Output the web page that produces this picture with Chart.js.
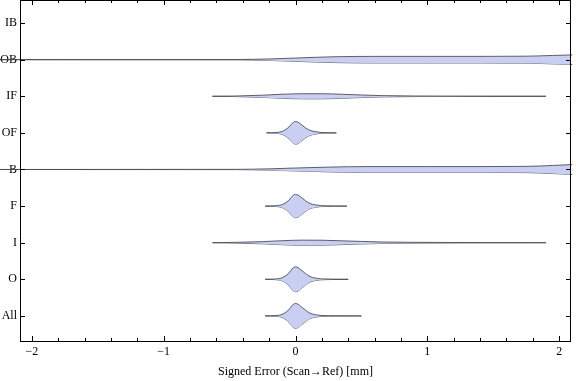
<!DOCTYPE html>
<html>
<head>
<meta charset="utf-8">
<script src="https://cdn.jsdelivr.net/npm/chart.js@4"></script>
<style>
html,body{margin:0;padding:0;background:#fff;}
canvas{display:block;}
</style>
</head>
<body>
<canvas id="c" width="576" height="381"></canvas>
<script>
// Categories, top to bottom
const categories = ['IB','OB','IF','OF','B','F','I','O','All'];
const xTicks = [-2,-1,0,1,2];
const xTitle = 'Signed Error (Scan\u2192Ref) [mm]';

// Violin outlines: positions along x (mm) and half-widths (category units)
const ibX = [];
const ibW = [];
const obX = [-2.25,-0.45,-0.2,0,0.3,0.6,1.0,1.4,1.75,1.95,2.1,2.3];
const obW = [0,0.004,0.02,0.045,0.08,0.09,0.09,0.09,0.095,0.115,0.13,0.14];
const ifX = [-0.63,-0.45,-0.25,-0.1,0.05,0.2,0.35,0.5,0.65,0.9,1.3,1.9];
const ifW = [0,0.008,0.03,0.055,0.07,0.07,0.055,0.035,0.018,0.008,0.004,0];
const ofX = [-0.22,-0.15,-0.11,-0.08,-0.05,-0.025,0,0.02,0.04,0.075,0.11,0.15,0.2,0.31];
const ofW = [0,0.01,0.03,0.08,0.16,0.26,0.31,0.29,0.24,0.14,0.07,0.035,0.01,0];
const bX = [-2.25,-0.45,-0.2,0,0.25,0.55,1.0,1.4,1.75,1.95,2.1,2.3];
const bW = [0,0.004,0.018,0.04,0.065,0.08,0.08,0.08,0.085,0.11,0.135,0.15];
const fX = [-0.23,-0.15,-0.11,-0.08,-0.05,-0.025,0,0.02,0.04,0.075,0.11,0.15,0.2,0.39];
const fW = [0,0.01,0.03,0.08,0.16,0.27,0.32,0.30,0.25,0.15,0.07,0.035,0.012,0];
const iX = [-0.63,-0.45,-0.25,-0.1,0.05,0.2,0.35,0.5,0.65,0.9,1.3,1.9];
const iW = [0,0.01,0.03,0.055,0.07,0.068,0.052,0.035,0.02,0.01,0.005,0];
const oX = [-0.23,-0.15,-0.11,-0.08,-0.05,-0.025,0,0.02,0.04,0.075,0.11,0.15,0.2,0.40];
const oW = [0,0.01,0.03,0.085,0.17,0.29,0.34,0.32,0.26,0.16,0.075,0.035,0.012,0];
const allX = [-0.23,-0.15,-0.11,-0.08,-0.05,-0.025,0,0.02,0.04,0.075,0.11,0.15,0.2,0.3,0.5];
const allW = [0,0.01,0.03,0.085,0.17,0.29,0.34,0.32,0.26,0.16,0.075,0.035,0.012,0.004,0];

const violins = [
  [ibX, ibW], [obX, obW], [ifX, ifW], [ofX, ofW], [bX, bW],
  [fX, fW], [iX, iW], [oX, oW], [allX, allW]
];

const FILL = 'rgb(201,207,243)';
const EDGE = 'rgba(70,70,80,0.85)';

const datasets = [];
violins.forEach(([xs, ws], idx) => {
  if (!xs.length) return;
  const wide = xs[0] < -2.09 || xs[xs.length-1] > 2.09;
  const common = {
    borderColor: EDGE, borderWidth: 1, pointRadius: 0,
    cubicInterpolationMode: 'monotone', clip: wide ? false : undefined
  };
  datasets.push(Object.assign({
    data: xs.map((x, k) => ({x, y: idx - ws[k]})),
    backgroundColor: FILL, fill: '+1'
  }, common));
  datasets.push(Object.assign({
    data: xs.map((x, k) => ({x, y: idx + ws[k]})),
    fill: false
  }, common));
});

const frame = {
  id: 'frame',
  afterDraw(chart) {
    const {ctx, chartArea: a, scales: {x, y}} = chart;
    ctx.save();
    ctx.strokeStyle = '#000';
    ctx.lineWidth = 1;
    ctx.strokeRect(a.left + 0.5, a.top + 0.5, a.right - a.left - 1, a.bottom - a.top);
    ctx.beginPath();
    for (let k = -10; k <= 10; k++) {
      const v = k / 5;
      const px = Math.round(x.getPixelForValue(v)) + 0.5;
      if (px < a.left || px > a.right) continue;
      const len = (k % 5 === 0) ? 5 : 3;
      ctx.moveTo(px, a.bottom); ctx.lineTo(px, a.bottom - len);
      ctx.moveTo(px, a.top); ctx.lineTo(px, a.top + len);
    }
    categories.forEach((c, i) => {
      const py = Math.round(y.getPixelForValue(i)) + 0.5;
      ctx.moveTo(a.left, py); ctx.lineTo(a.left + 5, py);
      ctx.moveTo(a.right, py); ctx.lineTo(a.right - 5, py);
    });
    ctx.stroke();
    ctx.restore();
  }
};

new Chart(document.getElementById('c'), {
  type: 'line',
  data: {datasets},
  options: {
    responsive: false,
    animation: false,
    devicePixelRatio: 1,
    layout: {padding: {top: 0, right: 5, left: 0, bottom: 0}},
    plugins: {legend: {display: false}, tooltip: {enabled: false}},
    elements: {line: {borderJoinStyle: 'round'}},
    scales: {
      x: {
        type: 'linear', min: -2.09, max: 2.09,
        grid: {display: false, drawTicks: false},
        border: {display: false},
        afterBuildTicks: s => { s.ticks = xTicks.map(v => ({value: v})); },
        afterFit: s => { s.height = 40; s.paddingLeft = 0; s.paddingRight = 0; },
        ticks: {
          padding: 4, color: '#000',
          font: {family: 'Liberation Serif', size: 12},
          callback: v => (v < 0 ? '\u2212' + Math.abs(v) : String(v))
        },
        title: {
          display: true, text: xTitle, color: '#000',
          font: {family: 'Liberation Serif', size: 12},
          padding: {top: 0, bottom: 2}
        }
      },
      y: {
        type: 'linear', reverse: true, min: -0.63, max: 8.685,
        grid: {display: false, drawTicks: false},
        border: {display: false},
        afterBuildTicks: s => { s.ticks = categories.map((c, i) => ({value: i})); },
        afterFit: s => { s.width = 20; s.paddingTop = 0; s.paddingBottom = 0; },
        ticks: {
          padding: 3, color: '#000', autoSkip: false,
          font: {family: 'Liberation Serif', size: 12},
          callback: v => categories[v]
        }
      }
    }
  },
  plugins: [frame]
});
</script>
</body>
</html>
